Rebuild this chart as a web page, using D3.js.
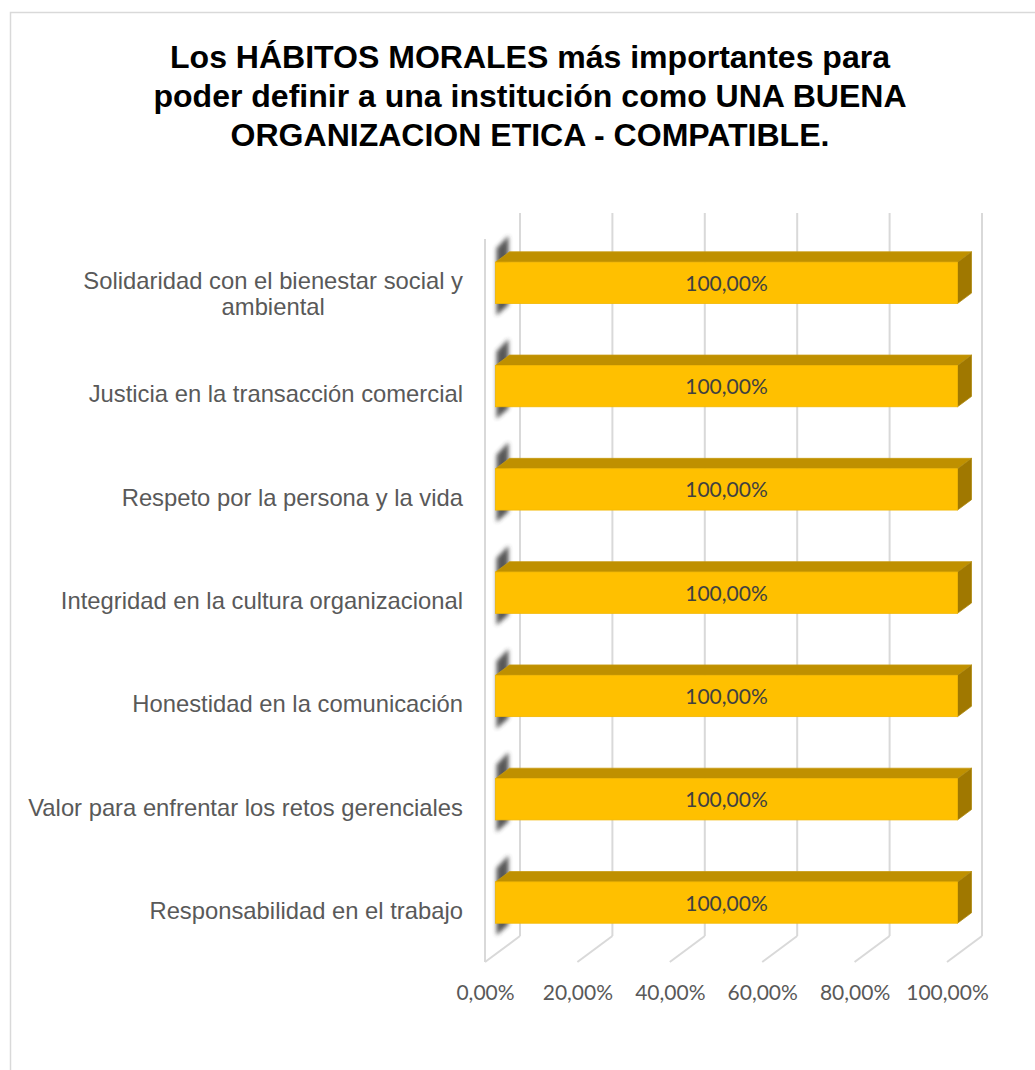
<!DOCTYPE html>
<html>
<head>
<meta charset="utf-8">
<script src="https://cdn.jsdelivr.net/npm/d3@7/dist/d3.min.js"></script>
<style>
  html, body { margin: 0; padding: 0; background: #fff; }
  svg { display: block; }
</style>
</head>
<body>
<svg id="chart" width="1035" height="1070"></svg>
<script>
// Categories, top to bottom
const categories = [
  "Solidaridad con el bienestar social y ambiental",
  "Justicia en la transacción comercial",
  "Respeto por la persona y la vida",
  "Integridad en la cultura organizacional",
  "Honestidad en la comunicación",
  "Valor para enfrentar los retos gerenciales",
  "Responsabilidad en el trabajo"
];
const values = [1.00, 1.00, 1.00, 1.00, 1.00, 1.00, 1.00];
const xTicks = [0, 0.2, 0.4, 0.6, 0.8, 1.0];
const titleLines = [
  "Los HÁBITOS MORALES más importantes para",
  "poder definir a una institución como UNA BUENA",
  "ORGANIZACION ETICA - COMPATIBLE."
];

const svg = d3.select("#chart");
const pct = v => d3.format(".2f")(v * 100).replace(".", ",") + "%";

// Chart frame
svg.append("rect")
  .attr("x", 10.5).attr("y", 12.5)
  .attr("width", 1100).attr("height", 1100)
  .attr("fill", "#fff").attr("stroke", "#d9d9d9").attr("stroke-width", 1.5);

// Title (slightly widened lettering)
svg.append("g")
  .attr("transform", "translate(530,0) scale(1.05,1)")
  .selectAll("text").data(titleLines).join("text")
  .attr("x", 0)
  .attr("y", (d, i) => 68 + i * 39)
  .attr("text-anchor", "middle")
  .attr("font-family", "'Liberation Sans', Arial, sans-serif")
  .attr("font-weight", "bold")
  .attr("font-size", 30.5)
  .attr("fill", "#000")
  .text(d => d);

// 3D plot geometry: back wall scales plus a depth offset toward the viewer
const x = d3.scaleLinear().domain([0, 1]).range([520, 982]);
const y = d3.scaleBand().domain(categories).range([213, 936])
  .paddingInner(0.6).paddingOuter(0.3);
const DX = -35, DY = 26;              // full depth of the plot box
const floorY = 936;
const P = (xv, yv, d) => [x(xv) + DX * d, yv + DY * d];

const grid = svg.append("g").attr("stroke", "#d9d9d9").attr("stroke-width", 2).attr("fill", "none");
// back wall verticals
grid.selectAll("line.back").data(xTicks).join("line")
  .attr("class", "back")
  .attr("x1", d => x(d)).attr("x2", d => x(d))
  .attr("y1", 213).attr("y2", floorY);
// floor diagonals
grid.selectAll("line.floor").data(xTicks).join("line")
  .attr("class", "floor")
  .attr("x1", d => x(d)).attr("y1", floorY)
  .attr("x2", d => P(d, floorY, 1)[0]).attr("y2", d => P(d, floorY, 1)[1]);
// front edge of the left wall
grid.append("line")
  .attr("x1", P(0, 213, 1)[0]).attr("x2", P(0, 213, 1)[0])
  .attr("y1", 213 + DY).attr("y2", floorY + DY);

// Bars
const defs = svg.append("defs");
defs.append("filter").attr("id", "soft")
  .attr("x", "-100%").attr("y", "-50%").attr("width", "300%").attr("height", "200%")
  .append("feGaussianBlur").attr("stdDeviation", 2.2);

const d0 = 0.3, d1 = 0.7;             // bar sits in the middle of the depth
const poly = pts => "M" + pts.map(p => p.join(",")).join("L") + "Z";

const bars = svg.append("g").selectAll("g").data(categories).join("g");
bars.each(function (c, i) {
  const g = d3.select(this);
  const v = values[i];
  const top = y(c), bot = y(c) + y.bandwidth();

  // shading at the bar's base end
  g.append("path")
    .attr("d", poly([
      [P(0, top - 14, d1)[0] + 1, P(0, top - 14, d1)[1]],
      [P(0, top - 14, d0)[0] - 1, P(0, top - 14, d0)[1] - 2],
      [P(0, bot + 12, d0)[0] - 1, P(0, bot + 12, d0)[1]],
      [P(0, bot + 12, d1)[0] + 1, P(0, bot + 12, d1)[1]]
    ]))
    .attr("fill", "#3a3a3a").attr("opacity", 0.85)
    .attr("filter", "url(#soft)");

  // top face
  g.append("path")
    .attr("d", poly([P(0, top, d1), P(v, top, d1), P(v, top, d0), P(0, top, d0)]))
    .attr("fill", "#bf9000").attr("stroke", "#c89a10").attr("stroke-width", 0.8);
  // right end face
  g.append("path")
    .attr("d", poly([P(v, top, d1), P(v, top, d0), P(v, bot, d0), P(v, bot, d1)]))
    .attr("fill", "#a07800").attr("stroke", "#b08a10").attr("stroke-width", 0.8);
  // front face
  const f0 = P(0, top, d1), f1 = P(v, bot, d1);
  g.append("rect")
    .attr("x", f0[0]).attr("y", f0[1])
    .attr("width", f1[0] - f0[0]).attr("height", f1[1] - f0[1])
    .attr("fill", "#ffc000").attr("stroke", "#f2b600").attr("stroke-width", 0.8);
  // value label
  g.append("text")
    .attr("x", (f0[0] + f1[0]) / 2)
    .attr("y", (f0[1] + f1[1]) / 2 + 8)
    .attr("text-anchor", "middle")
    .attr("font-family", "Lato, 'Open Sans', sans-serif")
    .attr("font-size", 21)
    .attr("fill", "#404040")
    .text(pct(v));
});

// Value axis along the front of the floor
const xFront = d3.scaleLinear().domain([0, 1]).range([P(0, 0, 1)[0], P(1, 0, 1)[0]]);
const xAxis = svg.append("g")
  .attr("transform", `translate(0,${floorY + DY + 19})`)
  .call(d3.axisBottom(xFront).tickValues(xTicks).tickFormat(pct).tickSize(0));
xAxis.select(".domain").remove();
xAxis.selectAll("text")
  .attr("font-family", "Lato, 'Open Sans', sans-serif")
  .attr("font-size", 21)
  .attr("fill", "#595959")
  .attr("dy", "0.76em");

// Category labels, wrapped and right aligned on the front plane
const labelFont = "'Liberation Sans', Arial, sans-serif";
const labelG = svg.append("g")
  .attr("font-family", labelFont).attr("font-size", 23.8).attr("fill", "#595959");
const maxW = 455, rightX = 463, lineH = 26;
categories.forEach(c => {
  const cy = y(c) + y.bandwidth() / 2 + DY;
  const t = labelG.append("text").attr("text-anchor", "middle");
  // break into lines
  const words = c.split(" ");
  const lines = [];
  let cur = [];
  const probe = labelG.append("text");
  words.forEach(w => {
    const test = cur.concat([w]).join(" ");
    probe.text(test);
    if (probe.node().getComputedTextLength() > maxW && cur.length) {
      lines.push(cur.join(" "));
      cur = [w];
    } else cur.push(w);
  });
  lines.push(cur.join(" "));
  const widths = lines.map(l => { probe.text(l); return probe.node().getComputedTextLength(); });
  probe.remove();
  const blockW = d3.max(widths);
  const cx = rightX - blockW / 2;
  lines.forEach((l, k) => {
    t.append("tspan")
      .attr("x", cx)
      .attr("y", cy + 8.5 + (k - (lines.length - 1) / 2) * lineH + (lines.length > 1 ? 3 : 0))
      .text(l);
  });
});
</script>
</body>
</html>
